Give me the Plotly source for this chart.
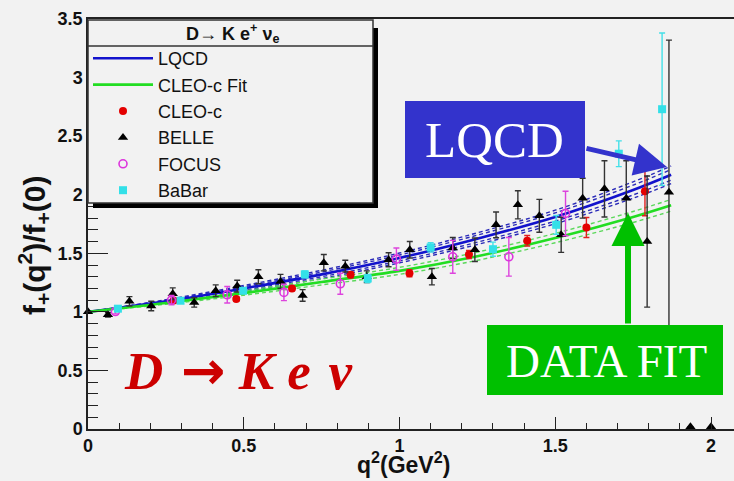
import plotly.graph_objects as go

# ---------------- data ----------------
curve_q2 = [0.0, 0.25, 0.5, 0.75, 1.0, 1.25, 1.5, 1.75, 1.872]
lqcd = [1.0, 1.09, 1.20, 1.32, 1.46, 1.625, 1.81, 2.04, 2.17]
lqcd_inner = [0.0, 0.008, 0.015, 0.02, 0.025, 0.03, 0.035, 0.042, 0.045]
lqcd_outer = [0.0, 0.013, 0.025, 0.035, 0.042, 0.05, 0.058, 0.07, 0.075]
cleo_fit = [1.0, 1.075, 1.16, 1.255, 1.35, 1.475, 1.63, 1.81, 1.91]
cleo_fit_band = [0.0, 0.01, 0.018, 0.025, 0.03, 0.035, 0.04, 0.047, 0.05]

cleo_q2 = [0.275, 0.476, 0.655, 0.843, 1.032, 1.223, 1.41, 1.60, 1.788]
cleo_f = [1.097, 1.11, 1.20, 1.316, 1.33, 1.49, 1.607, 1.72, 2.03]
cleo_err = [0.02, 0.02, 0.02, 0.025, 0.03, 0.035, 0.045, 0.085, 0.21]

belle_q2 = [0.0, 0.064, 0.133, 0.203, 0.272, 0.341, 0.41, 0.479, 0.547, 0.618,
            0.689, 0.757, 0.826, 0.895, 0.965, 1.033, 1.104, 1.171, 1.242, 1.31,
            1.38, 1.449, 1.519, 1.588, 1.658, 1.728, 1.795, 1.865, 1.934, 2.0]
belle_f = [1.0, 0.975, 1.09, 1.05, 1.155, 1.08, 1.18, 1.22, 1.30, 1.26,
           1.14, 1.42, 1.39, 1.30, 1.445, 1.53, 1.30, 1.545, 1.53, 1.743,
           1.914, 1.82, 1.658, 1.97, 2.05, 1.97, 1.60, 2.02, 0.02, 0.02]
belle_err = [0.0, 0.02, 0.04, 0.04, 0.05, 0.04, 0.05, 0.05, 0.06, 0.06,
             0.05, 0.07, 0.05, 0.05, 0.06, 0.07, 0.07, 0.09, 0.10, 0.11,
             0.12, 0.14, 0.15, 0.17, 0.24, 0.32, 0.56, 1.30, 0.0, 0.0]

focus_q2 = [0.088, 0.268, 0.447, 0.629, 0.81, 0.99, 1.171, 1.351, 1.533]
focus_f = [1.003, 1.10, 1.146, 1.166, 1.24, 1.45, 1.47, 1.47, 1.84]
focus_err = [0.02, 0.04, 0.07, 0.07, 0.09, 0.095, 0.14, 0.165, 0.19]

babar_q2 = [0.096, 0.297, 0.498, 0.696, 0.898, 1.10, 1.30, 1.503, 1.704, 1.843]
babar_f = [1.027, 1.095, 1.18, 1.32, 1.285, 1.55, 1.535, 1.743, 2.35, 2.73]
babar_err = [0.01, 0.015, 0.02, 0.03, 0.035, 0.04, 0.06, 0.08, 0.11, 0.65]

x_ticks = [0, 0.5, 1, 1.5, 2]
x_tick_text = ["0", "0.5", "1", "1.5", "2"]
y_ticks = [0, 0.5, 1, 1.5, 2, 2.5, 3, 3.5]
y_tick_text = ["0", "0.5", "1", "1.5", "2", "2.5", "3", "3.5"]

# ---------------- geometry ----------------
W, H = 734, 481
L, T, B, R = 88, 19, 52, 0
PW = W - L - R
PH = H - T - B
X_PER_UNIT = 311.5


def px(xp):
    return (xp - L) / PW


def py(yp):
    return (T + PH - yp) / PH


BG = "#f2f2f2"
SANS = "Liberation Sans, Arial, sans-serif"
SERIF = "Liberation Serif, Times New Roman, serif"

fig = go.Figure()

# LQCD band (dashed)
for off in (lqcd_outer, lqcd_inner):
    for sgn in (1, -1):
        fig.add_trace(go.Scatter(
            x=curve_q2, y=[c + sgn * o for c, o in zip(lqcd, off)],
            mode="lines", line=dict(color="#2a2ab8", width=1.4, dash="4px,3px", shape="spline"),
            showlegend=False, hoverinfo="skip"))
# CLEO-c fit band (dashed)
for sgn in (1, -1):
    fig.add_trace(go.Scatter(
        x=curve_q2, y=[c + sgn * o for c, o in zip(cleo_fit, cleo_fit_band)],
        mode="lines", line=dict(color="#5ad85a", width=1.4, dash="4px,3px", shape="spline"),
        showlegend=False, hoverinfo="skip"))

fig.add_trace(go.Scatter(x=curve_q2, y=lqcd, mode="lines", name="LQCD",
                         line=dict(color="#1212cc", width=2.6, shape="spline")))
fig.add_trace(go.Scatter(x=curve_q2, y=cleo_fit, mode="lines", name="CLEO-c Fit",
                         line=dict(color="#22dd22", width=2.6, shape="spline")))

fig.add_trace(go.Scatter(
    x=cleo_q2, y=cleo_f, mode="markers", name="CLEO-c",
    marker=dict(symbol="circle", size=8, color="#e40000"),
    error_y=dict(type="data", array=cleo_err, color="#e02020", thickness=1.4, width=3)))
fig.add_trace(go.Scatter(
    x=belle_q2, y=belle_f, mode="markers", name="BELLE", cliponaxis=False,
    marker=dict(symbol="triangle-up", size=9, color="#000000"),
    error_y=dict(type="data", array=belle_err, color="#333333", thickness=1.4, width=3)))
fig.add_trace(go.Scatter(
    x=focus_q2, y=focus_f, mode="markers", name="FOCUS",
    marker=dict(symbol="circle-open", size=8, color="#dd33dd", line=dict(width=1.6)),
    error_y=dict(type="data", array=focus_err, color="#dd44dd", thickness=1.4, width=3)))
fig.add_trace(go.Scatter(
    x=babar_q2, y=babar_f, mode="markers", name="BaBar",
    marker=dict(symbol="square", size=8, color="#33e0e8"),
    error_y=dict(type="data", array=babar_err, color="#44e0e8", thickness=1.4, width=3)))

shapes = []
# legend box with shadow
shapes.append(dict(type="rect", xref="paper", yref="paper", x0=px(373), x1=px(378), y0=py(208), y1=py(28),
                   fillcolor="#000", line=dict(width=0), layer="above"))
shapes.append(dict(type="rect", xref="paper", yref="paper", x0=px(93), x1=px(378), y0=py(208), y1=py(203),
                   fillcolor="#000", line=dict(width=0), layer="above"))
shapes.append(dict(type="rect", xref="paper", yref="paper", x0=px(88), x1=px(373), y0=py(203), y1=py(20),
                   fillcolor=BG, line=dict(color="#333", width=1.5), layer="above"))
shapes.append(dict(type="line", xref="paper", yref="paper", x0=px(88), x1=px(373), y0=py(46), y1=py(46),
                   line=dict(color="#333", width=1.5), layer="above"))
# label boxes
shapes.append(dict(type="rect", xref="paper", yref="paper", x0=px(405), x1=px(585), y0=py(178), y1=py(101),
                   fillcolor="#3333cc", line=dict(width=0), layer="above"))
shapes.append(dict(type="rect", xref="paper", yref="paper", x0=px(487), x1=px(723), y0=py(395), y1=py(325),
                   fillcolor="#00c000", line=dict(width=0), layer="above"))


def label(xp, yp, text, **kw):
    d = dict(xref="paper", yref="paper", x=px(xp), y=py(yp), text=text, showarrow=False,
             xanchor="center", yanchor="middle")
    d.update(kw)
    return d


annotations = [
    label(232, 33, "<b>D→ K e<sup>+</sup> ν<sub>e</sub></b>", font=dict(family=SANS, size=18, color="#111")),
    label(495, 140, "LQCD", font=dict(family=SERIF, size=51, color="white")),
    label(606, 361, "DATA FIT", font=dict(family=SERIF, size=47, color="white")),
    label(238, 370,
          "<b><i>D\u200a <span style=\"font-family:DejaVu Sans\">→</span> K e\u200a ν</i></b>",
          font=dict(family=SERIF, size=53, color="#cc0000")),
    label(34, 245, "<b>f<sub>+</sub>(q<sup>2</sup>)/f<sub>+</sub>(0)</b>", textangle=-90,
          font=dict(family=SANS, size=30, color="#111")),
    label(403, 480, "<b>q<sup>2</sup>(GeV<sup>2</sup>)</b>", yanchor="bottom",
          font=dict(family=SANS, size=23, color="#111")),
    dict(xref="paper", yref="paper", x=px(667), y=py(167), ax=585 - 667, ay=148 - 167, text="",
         showarrow=True, arrowhead=2, arrowsize=1.3, arrowwidth=5, arrowcolor="#3333cc", standoff=0),
    dict(xref="paper", yref="paper", x=px(628), y=py(213), ax=0, ay=325 - 213, text="",
         showarrow=True, arrowhead=2, arrowsize=1.1, arrowwidth=6, arrowcolor="#00c000", standoff=0),
]

axis_common = dict(showgrid=False, zeroline=False, showline=True, linecolor="#222", linewidth=1.5,
                   ticks="inside", tickcolor="#222", tickwidth=1.3,
                   tickfont=dict(family=SANS, size=18, color="#111", weight="bold"))

fig.update_layout(
    width=W, height=H, margin=dict(l=L, r=R, t=T, b=B),
    paper_bgcolor=BG, plot_bgcolor=BG,
    xaxis=dict(range=[0, PW / X_PER_UNIT], tickvals=x_ticks, ticktext=x_tick_text, ticklen=12,
               mirror=True, minor=dict(dtick=0.1, ticklen=6, ticks="inside", tickcolor="#222"),
               **axis_common),
    yaxis=dict(range=[0, 3.5], tickvals=y_ticks, ticktext=y_tick_text, ticklen=20,
               minor=dict(dtick=0.1, ticklen=10, ticks="inside", tickcolor="#222"),
               **axis_common),
    showlegend=True,
    legend=dict(x=px(88), y=py(40), xanchor="left", yanchor="top", bgcolor="rgba(0,0,0,0)",
                borderwidth=0, itemwidth=60, tracegroupgap=0,
                font=dict(family=SANS, size=18, color="#111")),
    shapes=shapes, annotations=annotations,
)

fig.write_html("out.html", config={"displayModeBar": False},
               post_script="document.body.style.margin='0';document.body.style.background='%s';" % BG)
